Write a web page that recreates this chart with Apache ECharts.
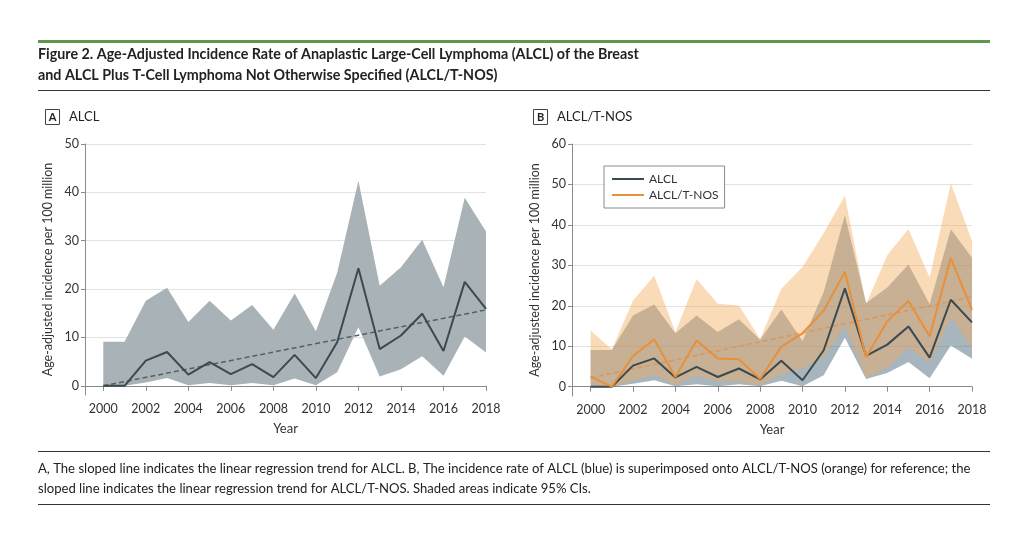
<!DOCTYPE html>
<html>
<head>
<meta charset="utf-8">
<script src="https://cdn.jsdelivr.net/npm/echarts@6/dist/echarts.min.js"></script>
<style>
html,body{margin:0;padding:0;background:#fff;}
#chart{width:1031px;height:535px;}
</style>
</head>
<body>
<div id="chart"></div>
<script>
// ---- data ----
const years = [2000,2001,2002,2003,2004,2005,2006,2007,2008,2009,2010,2011,2012,2013,2014,2015,2016,2017,2018];
const tickYears = [2000,2002,2004,2006,2008,2010,2012,2014,2016,2018];
const ticksA = [0,10,20,30,40,50];
const ticksB = [0,10,20,30,40,50,60];

const alclRate  = [0,0,5.2,7.0,2.3,4.9,2.4,4.5,1.8,6.4,1.6,9.0,24.3,7.6,10.4,14.9,7.2,21.5,15.9];
const alclUpper = [9.1,9.1,17.6,20.3,13.2,17.6,13.5,16.7,11.6,19.1,11.3,23.4,42.4,20.7,24.5,30.2,20.4,38.9,31.9];
const alclLower = [0,0,0.7,1.6,0.1,0.6,0.1,0.6,0.1,1.5,0.1,2.8,12.1,1.9,3.4,6.1,2.1,10.2,6.9];
const alclTrend = [[2000,0.0],[2018,15.7]];

const tnosRate  = [2.5,0,7.6,11.7,2.4,11.4,7.0,6.8,1.9,9.9,13.2,18.8,28.4,7.3,16.2,21.2,12.5,31.8,19.0];
const tnosUpper = [13.9,9.2,21.3,27.4,13.5,26.6,20.5,20.1,11.8,24.2,29.6,38.0,47.2,20.4,32.5,39.0,27.0,50.3,36.0];
const tnosLower = [0.3,0,1.5,2.9,0.4,2.7,1.3,1.3,0.4,3.1,4.5,7.3,15.0,2.2,4.7,9.7,5.8,17.1,9.7];
const tnosTrend = [[2000,2.2],[2018,22.2]];

// ---- helpers ----
function bandSeries(name, xi, yi, lower, upper, color, z) {
  return {
    name: name, type: 'custom', xAxisIndex: xi, yAxisIndex: yi, z: z, silent: true,
    data: years.map((y, i) => [y, lower[i], upper[i]]),
    renderItem: function (params, api) {
      if (params.dataIndex !== 0) return null;
      const pts = [];
      for (let i = 0; i < years.length; i++) pts.push(api.coord([years[i], upper[i]]));
      for (let i = years.length - 1; i >= 0; i--) pts.push(api.coord([years[i], lower[i]]));
      return { type: 'polygon', shape: { points: pts }, style: { fill: color } };
    }
  };
}
function lineSeries(name, xi, yi, vals, color, z) {
  return {
    name: name, type: 'line', xAxisIndex: xi, yAxisIndex: yi, z: z,
    data: years.map((y, i) => [y, vals[i]]),
    symbol: 'none', lineStyle: { color: color, width: 2 }, itemStyle: { color: color }
  };
}
function trendSeries(name, xi, yi, pts, color, z) {
  return {
    name: name, type: 'line', xAxisIndex: xi, yAxisIndex: yi, z: z,
    data: pts, symbol: 'none',
    lineStyle: { color: color, width: 1.5, type: [5, 3] }
  };
}
const FONT = 'Lato';
function xAx(gi, min) {
  return {
    type: 'value', gridIndex: gi, min: min, max: 2018,
    axisLine: { show: true, lineStyle: { color: '#8a8a8a', width: 1 } },
    axisTick: { show: true, customValues: tickYears, length: 5, lineStyle: { color: '#8a8a8a' } },
    axisLabel: { customValues: tickYears, formatter: v => String(v), fontSize: 12.5, color: '#333', margin: 7, fontFamily: FONT },
    splitLine: { show: false },
    name: 'Year', nameLocation: 'middle', nameGap: 27,
    nameTextStyle: { fontSize: 13, color: '#333', fontFamily: FONT }
  };
}
function yAx(gi, min, max, ticks) {
  return {
    type: 'value', gridIndex: gi, min: min, max: max, splitNumber: ticks.length - 1,
    axisLine: { show: true, lineStyle: { color: '#8a8a8a', width: 1 } },
    axisTick: { show: true, customValues: ticks, length: 4, lineStyle: { color: '#8a8a8a' } },
    axisLabel: { customValues: ticks, fontSize: 12.5, color: '#333', margin: 6, fontFamily: FONT },
    splitLine: { show: true, lineStyle: { color: '#e2e2e2', width: 1.2 } },
    name: 'Age-adjusted incidence per 100 million', nameLocation: 'middle', nameGap: 31,
    nameTextStyle: { fontSize: 12.5, color: '#333', fontFamily: FONT }
  };
}

const chart = echarts.init(document.getElementById('chart'), null, { renderer: 'canvas' });
chart.setOption({
  animation: false,
  backgroundColor: '#fff',
  textStyle: { fontFamily: FONT },
  grid: [
    { left: 85, top: 144, width: 401, height: 251 },
    { left: 572, top: 144, width: 400, height: 252 }
  ],
  xAxis: [xAx(0, 1999.14), xAx(1, 1999.12)],
  yAxis: [yAx(0, -1.9, 50, ticksA), yAx(1, -2.3, 60, ticksB)],
  legend: {
    data: ['ALCL', 'ALCL/T-NOS'],
    orient: 'vertical', left: 604, top: 166,
    backgroundColor: '#fff', borderColor: '#8a8a8a', borderWidth: 1,
    padding: [7, 6, 7, 8], itemGap: 4, itemWidth: 32, itemHeight: 2, icon: 'rect',
    textStyle: { fontSize: 12, color: '#333', fontFamily: FONT }
  },
  series: [
    bandSeries('ciA', 0, 0, alclLower, alclUpper, '#a9b3b7', 1),
    trendSeries('trendA', 0, 0, alclTrend, '#556065', 3),
    lineSeries('ALCL A', 0, 0, alclRate, '#3b4a50', 4),

    bandSeries('ciB1', 1, 1, alclLower, alclUpper, 'rgba(80,108,128,0.5)', 1),
    bandSeries('ciB2', 1, 1, tnosLower, tnosUpper, 'rgba(242,170,85,0.42)', 2),
    trendSeries('trendB', 1, 1, tnosTrend, 'rgba(228,140,70,0.7)', 3),
    lineSeries('ALCL', 1, 1, alclRate, '#3b4a50', 4),
    lineSeries('ALCL/T-NOS', 1, 1, tnosRate, '#e8903a', 5)
  ],
  graphic: [
    { type: 'rect', shape: { x: 38, y: 40, width: 952, height: 3 }, style: { fill: '#5e9a4c' } },
    { type: 'text', left: 38, top: 47, style: { text: 'Figure 2. Age-Adjusted Incidence Rate of Anaplastic Large-Cell Lymphoma (ALCL) of the Breast', fontSize: 14.3, fontWeight: 'bold', fill: '#222', fontFamily: FONT } },
    { type: 'text', left: 38, top: 68, style: { text: 'and ALCL Plus T-Cell Lymphoma Not Otherwise Specified (ALCL/T-NOS)', fontSize: 14.3, fontWeight: 'bold', fill: '#222', fontFamily: FONT } },
    { type: 'rect', shape: { x: 38, y: 90, width: 952, height: 1 }, style: { fill: '#333' } },

    { type: 'rect', shape: { x: 45.5, y: 109.5, width: 14, height: 15 }, style: { fill: '#fff', stroke: '#444', lineWidth: 1 } },
    { type: 'text', x: 52.5, y: 117, style: { text: 'A', fontSize: 11, fontWeight: 'bold', fill: '#222', align: 'center', verticalAlign: 'middle', fontFamily: FONT } },
    { type: 'text', x: 69, y: 117, style: { text: 'ALCL', fontSize: 13, fill: '#222', verticalAlign: 'middle', fontFamily: FONT } },
    { type: 'rect', shape: { x: 533.5, y: 109.5, width: 14, height: 15 }, style: { fill: '#fff', stroke: '#444', lineWidth: 1 } },
    { type: 'text', x: 540.5, y: 117, style: { text: 'B', fontSize: 11, fontWeight: 'bold', fill: '#222', align: 'center', verticalAlign: 'middle', fontFamily: FONT } },
    { type: 'text', x: 557, y: 117, style: { text: 'ALCL/T-NOS', fontSize: 13, fill: '#222', verticalAlign: 'middle', fontFamily: FONT } },

    { type: 'rect', shape: { x: 38, y: 451, width: 952, height: 1 }, style: { fill: '#333' } },
    { type: 'text', x: 38, y: 469, style: { text: 'A, The sloped line indicates the linear regression trend for ALCL. B, The incidence rate of ALCL (blue) is superimposed onto ALCL/T-NOS (orange) for reference; the', fontSize: 13.1, fill: '#222', verticalAlign: 'middle', fontFamily: FONT } },
    { type: 'text', x: 38, y: 489, style: { text: 'sloped line indicates the linear regression trend for ALCL/T-NOS. Shaded areas indicate 95% CIs.', fontSize: 13.1, fill: '#222', verticalAlign: 'middle', fontFamily: FONT } },
    { type: 'rect', shape: { x: 38, y: 504, width: 952, height: 1 }, style: { fill: '#333' } }
  ]
});
</script>
</body>
</html>
